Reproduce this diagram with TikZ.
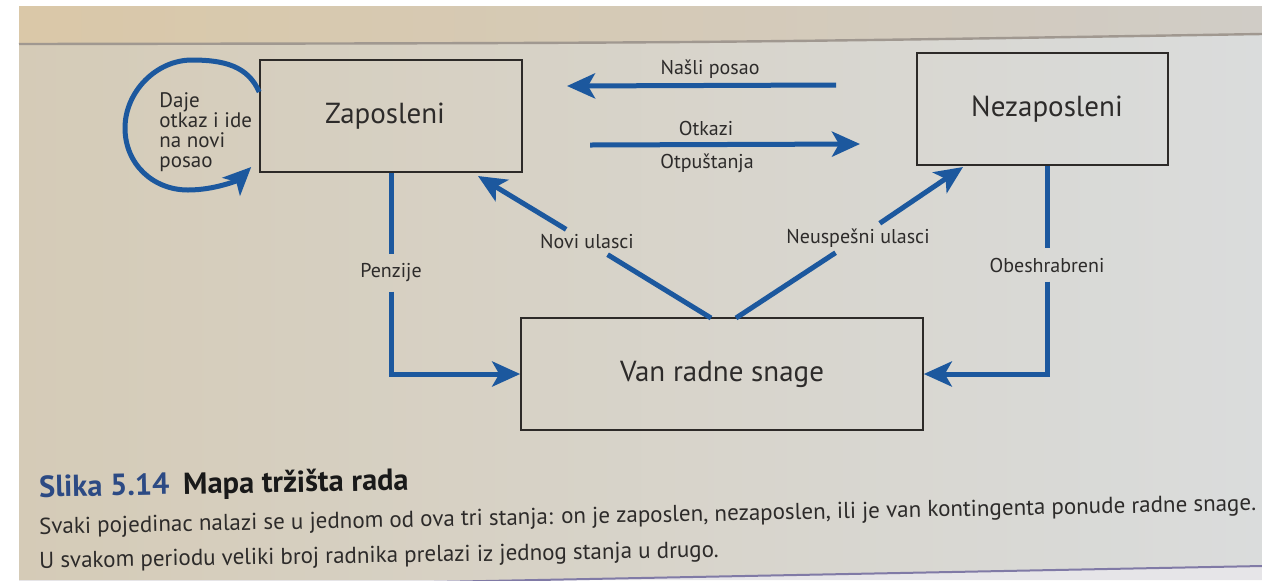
\documentclass[tikz,border=0pt]{standalone}
\usepackage{fontspec}
\setmainfont{PT Sans}
\usetikzlibrary{arrows.meta,calc}
\definecolor{arrblue}{RGB}{28,88,158}
\definecolor{boxgray}{RGB}{45,42,40}
\definecolor{txtgray}{RGB}{45,43,42}
\definecolor{capblue}{RGB}{44,74,132}
\definecolor{topL}{RGB}{218,200,168}
\definecolor{topR}{RGB}{208,204,198}
\definecolor{panL}{RGB}{213,203,183}
\definecolor{panR}{RGB}{218,220,220}
\definecolor{lineC}{RGB}{160,152,144}
\definecolor{botC}{RGB}{230,229,232}
\tikzset{
  statebox/.style={draw=boxgray, line width=0.8pt, inner sep=0pt, text=txtgray,
    font=\fontsize{14.5}{17}\selectfont},
  arr/.style={draw=arrblue, line width=2.5pt,
    -{Stealth[length=14pt,width=12.5pt,inset=3.5pt]}},
  seg/.style={draw=arrblue, line width=2.5pt},
  lbl/.style={font=\fontsize{10}{12}\selectfont, text=txtgray, inner sep=2.5pt},
  captxt/.style={anchor=base west, inner sep=0pt, text=txtgray,
    font=\fontsize{11.5}{13}\selectfont}
}
\begin{document}
\begin{tikzpicture}[x=0.5pt,y=-0.5pt]
\useasboundingbox (0,0) rectangle (1262,580);
% page background
\fill[white] (0,0) rectangle (1262,580);
\shade[left color=topL, right color=topR] (19,6) rectangle (1262,46);
\shade[left color=panL, right color=panR]
  (19,44) .. controls (700,43) .. (1262,34) -- (1262,566) -- (19,590) -- cycle;
\fill[botC] (19,590) -- (1262,566) -- (1262,580) -- (19,580) -- cycle;
\draw[lineC, line width=1.2pt] (19,44) .. controls (700,43) .. (1262,34);
\draw[lineC!80!blue, line width=1pt] (19,590) -- (1262,566);

% state boxes
\node[statebox, minimum width=131pt, minimum height=56pt] (zap) at (391,116)
  {\hspace*{-6pt}\raisebox{-3pt}{Zaposleni}};
\node[statebox, minimum width=125.5pt, minimum height=56pt] (nez) at (1042.5,109)
  {\hspace*{4.5pt}\raisebox{-3pt}{Nezaposleni}};
\node[statebox, minimum width=201pt, minimum height=56pt] (van) at (722,374)
  {\raisebox{-1.5pt}{Van radne snage}};

% Nasli posao
\node[lbl] (nasli) at (710,69) {Našli posao};
\coordinate (n1) at (836,85);
\coordinate (n2) at (567,86);
\draw[arr] (n1) -- (n2);

% Otkazi / Otpustanja
\node[lbl] (otk) at (706,128) {Otkazi};
\node[lbl] (otp) at (707,163) {Otpuštanja};
\coordinate (o1) at (590,145);
\coordinate (o2) at (860,144);
\draw[arr] (o1) -- (o2);

% self loop
\coordinate (ls) at ([yshift=12pt]zap.west);
\coordinate (le) at ([xshift=-4pt,yshift=-25.5pt]zap.west);
\draw[arr] (ls) .. controls (248,66) and (224,60) .. (192,60)
  .. controls (156,60) and (125,92) .. (125,128)
  .. controls (125,164) and (153,190) .. (188,190)
  .. controls (215,190) and (238,180) .. (le);
\node[lbl, align=left, anchor=north west, inner sep=0pt,
  font=\fontsize{10.5}{10}\selectfont] (daje) at (159,92) {Daje\\otkaz i ide\\na novi\\posao};

% Penzije
\node[lbl, inner ysep=4.5pt] (pen) at (391,273) {Penzije};
\draw[seg] (zap.south) -- (pen.north);
\draw[arr] (pen.south) |- (van.west);

% Obeshrabreni
\node[lbl, inner ysep=4.5pt] (obe) at (1047,265) {Obeshrabreni};
\draw[seg] ([xshift=2.25pt]nez.south) -- (obe.north);
\draw[arr] (obe.south) |- (van.east);

% Novi ulasci
\node[lbl] (nov) at (587,242) {Novi ulasci};
\coordinate (nv0) at (711,318);
\coordinate (nv1) at (478,176);
\draw[seg] (nv0) -- (nov);
\draw[arr] (nov) -- (nv1);

% Neuspesni ulasci
\node[lbl] (neu) at (858,238) {Neuspešni ulasci};
\coordinate (ne0) at (736,318);
\coordinate (ne1) at (963,167);
\draw[seg] (ne0) -- (neu);
\draw[arr] (neu) -- (ne1);

% caption
\node[captxt, rotate=1.1, text=black!90, font=\bfseries\fontsize{15.2}{17}\selectfont] (head) at (39,497)
  {\textcolor{capblue}{Slika 5.14}\hspace{7pt}Mapa tržišta rada};
\node[captxt, rotate=1.1] (cap1) at (39,534)
  {Svaki pojedinac nalazi se u jednom od ova tri stanja: on je zaposlen, nezaposlen, ili je van kontingenta ponude radne snage.};
\node[captxt, rotate=0.9] (cap2) at (39,568)
  {U svakom periodu veliki broj radnika prelazi iz jednog stanja u drugo.};
\end{tikzpicture}
\end{document}
